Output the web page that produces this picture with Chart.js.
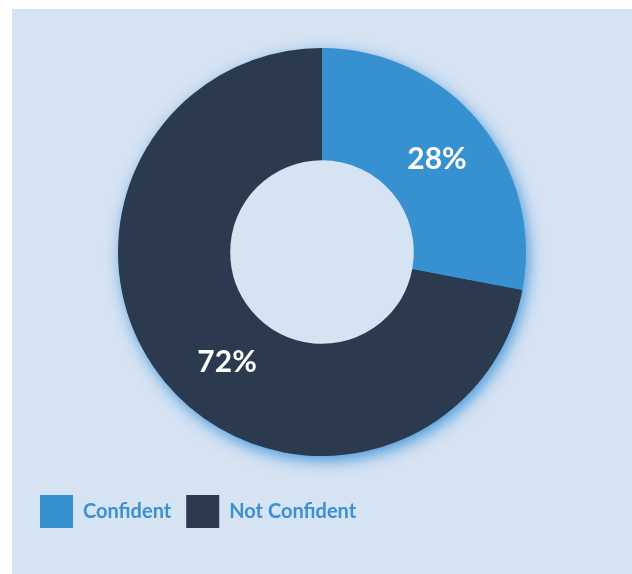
<!DOCTYPE html>
<html>
<head>
<meta charset="utf-8">
<script src="https://cdn.jsdelivr.net/npm/chart.js@4"></script>
<style>
  body { margin: 0; background: #ffffff; }
  #panel {
    position: absolute; left: 12px; top: 9px;
    width: 620px; height: 565px;
    background: #d6e3f3;
  }
</style>
</head>
<body>
<div id="panel"><canvas id="confidenceChart"></canvas></div>
<script>
// Daten
const categories = ['Confident', 'Not Confident'];
const shares = [28, 72];
const sliceColors = ['#3791d1', '#2b3a4e'];

// kleine Verschiebung der Beschriftung gegenüber dem Segment-Schwerpunkt (px)
const labelShift = [[1, 2], [19, 16]];

// Schatten hinter dem Ring (bläulicher Glow), nur außen
const ringShadow = {
    id: 'ringShadow',
    beforeDatasetsDraw(chart) {
        const arc = chart.getDatasetMeta(0).data[0];
        if (!arc) return;
        const ctx = chart.ctx;
        ctx.save();
        // Loch ausschneiden, damit der Schatten nicht hineinfällt
        ctx.beginPath();
        ctx.rect(0, 0, chart.width, chart.height);
        ctx.arc(arc.x, arc.y, arc.innerRadius + 1, 0, Math.PI * 2, true);
        ctx.clip('evenodd');
        ctx.beginPath();
        ctx.arc(arc.x, arc.y, arc.outerRadius - 1, 0, Math.PI * 2);
        ctx.shadowColor = 'rgba(45, 140, 215, 0.9)';
        ctx.shadowBlur = 16;
        ctx.shadowOffsetX = 3;
        ctx.shadowOffsetY = 5;
        ctx.fillStyle = '#2b3a4e';
        ctx.fill();
        ctx.restore();
    }
};

// Prozentwerte in die Segmente schreiben
const sliceLabels = {
    id: 'sliceLabels',
    afterDatasetsDraw(chart) {
        const ctx = chart.ctx;
        const meta = chart.getDatasetMeta(0);
        ctx.save();
        ctx.fillStyle = '#ffffff';
        ctx.font = 'bold 30px Lato, "Open Sans", sans-serif';
        ctx.textAlign = 'center';
        ctx.textBaseline = 'middle';
        meta.data.forEach((arc, i) => {
            const pos = arc.tooltipPosition();
            ctx.fillText(shares[i] + '%', pos.x + labelShift[i][0], pos.y + labelShift[i][1]);
        });
        ctx.restore();
    }
};

new Chart(document.getElementById('confidenceChart').getContext('2d'), {
    type: 'doughnut',
    data: {
        labels: categories,
        datasets: [{
            data: shares,
            backgroundColor: sliceColors,
            borderWidth: 0,
            radius: 204,
            cutout: '45%'
        }]
    },
    options: {
        responsive: true,
        maintainAspectRatio: false,
        animation: false,
        layout: { padding: { top: 15, bottom: 36, left: 13, right: 13 } },
        plugins: {
            tooltip: { enabled: false },
            legend: {
                position: 'bottom',
                align: 'start',
                labels: {
                    boxWidth: 33,
                    boxHeight: 33,
                    padding: 15,
                    color: '#3a90d0',
                    font: { family: 'Lato, "Open Sans", sans-serif', size: 20, weight: 'bold' }
                }
            }
        }
    },
    plugins: [ringShadow, sliceLabels]
});
</script>
</body>
</html>
